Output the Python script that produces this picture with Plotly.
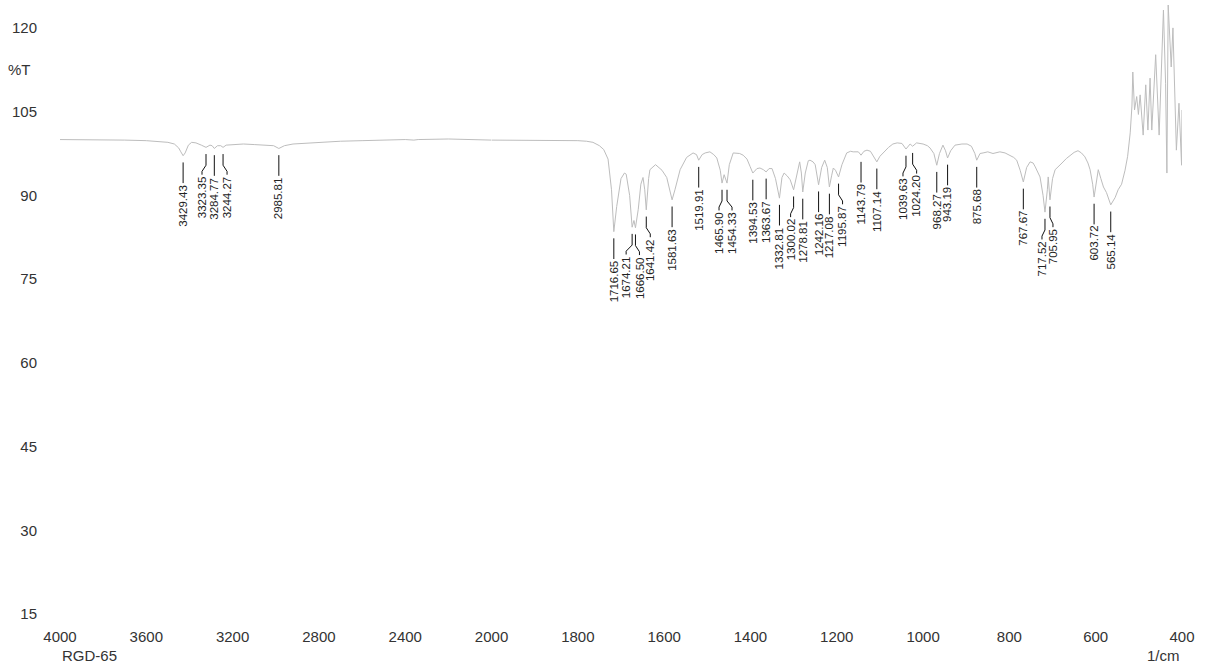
import numpy as np
import plotly.graph_objects as go

# ---------------- data ----------------
wavenumber = [
    4000, 3900, 3800, 3700, 3600, 3550, 3500, 3470, 3450, 3440, 3429.43, 3420, 3405, 3390,
    3370, 3345, 3323.35, 3305, 3295, 3284.77, 3270, 3255, 3244.27, 3230, 3200, 3150, 3100,
    3050, 3010, 2985.81, 2960, 2920, 2850, 2800, 2700, 2600, 2500, 2400, 2360, 2340, 2200,
    2100, 2000,
    1900, 1800, 1780, 1765, 1750, 1740, 1730, 1722, 1716.65, 1710, 1700, 1692, 1688, 1680,
    1674.21, 1670, 1666.50, 1660, 1654, 1649, 1645, 1641.42, 1636, 1633, 1620, 1605, 1594,
    1586, 1581.63, 1575, 1563, 1548, 1533, 1525, 1519.91, 1512, 1505, 1494, 1485, 1478, 1470,
    1465.90, 1461, 1454.33, 1449, 1440, 1425, 1417, 1408, 1401, 1394.53, 1385, 1378, 1370,
    1363.67, 1357, 1350, 1342, 1332.81, 1327, 1322, 1315, 1308, 1300.02, 1293, 1286, 1282,
    1278.81, 1273, 1266, 1262, 1255, 1250, 1242.16, 1235, 1228, 1222, 1217.08, 1212, 1208,
    1203, 1195.87, 1188, 1177, 1168, 1162, 1150, 1143.79, 1137, 1130, 1122, 1115, 1107.14,
    1100, 1093, 1080, 1070, 1060, 1049, 1039.63, 1030, 1024.20, 1015, 1000, 990, 984, 975,
    968.27, 962, 954, 948, 943.19, 936, 926, 910, 898, 888, 880, 875.68, 868, 861, 850, 838,
    830, 822, 810, 799, 790, 783, 775, 767.67, 760, 752, 745, 740, 735, 729, 722, 717.52,
    712, 710, 705.95, 700, 694, 686, 678, 668, 659, 650, 641, 633, 625, 618, 613, 607,
    603.72, 598, 594, 588, 582, 575, 565.14, 555, 548, 540, 532, 526, 520, 516, 514, 510,
    505, 501, 497, 490, 484, 479, 474, 470, 466, 461, 453, 448, 443, 438, 435, 432, 428,
    425, 421, 417, 413, 407, 403, 401, 400,
]
transmittance = [
    100.0, 100.0, 99.9, 99.9, 99.8, 99.7, 99.5, 99.2, 98.5, 97.8, 97.1, 97.6, 99.0, 99.5,
    99.4, 99.0, 98.6, 99.0, 98.9, 98.4, 98.9, 98.9, 98.6, 99.0, 99.1, 99.2, 99.1,
    99.0, 98.9, 98.4, 98.9, 99.2, 99.4, 99.5, 99.7, 99.8, 99.9, 100.0, 99.9, 100.0, 100.1,
    100.0, 99.9,
    99.9, 99.8, 99.7, 99.5, 98.9, 98.2, 96.5, 91.0, 83.5, 88.0, 93.0, 94.0, 93.8, 90.0,
    84.3, 85.5, 84.2, 87.5, 92.0, 93.2, 91.0, 87.4, 93.0, 94.6, 95.5, 94.5, 93.2,
    90.5, 89.2, 91.0, 94.6, 96.8, 97.6, 97.3, 96.3, 97.3, 97.6, 97.8, 97.3, 96.7, 94.5,
    92.2, 93.7, 92.2, 95.5, 97.6, 97.5, 97.2, 96.5, 95.2, 94.0, 94.8, 94.9, 94.6,
    94.2, 94.8, 94.8, 93.0, 89.5, 93.2, 94.0, 93.5, 92.8, 91.0, 93.5, 96.0, 94.0,
    90.6, 94.0, 96.2, 96.3, 96.0, 95.5, 91.9, 95.0, 96.3, 95.0, 91.5, 93.5, 94.9,
    94.5, 93.3, 95.5, 97.6, 97.9, 97.8, 97.8, 97.2, 97.9, 98.1, 97.9, 97.0, 96.0,
    97.0, 97.6, 98.6, 99.2, 99.4, 99.3, 98.3, 99.2, 98.8, 99.4, 99.2, 98.9, 98.5, 97.5,
    95.4, 97.5, 99.0, 98.0, 96.7, 98.0, 99.0, 99.2, 99.2, 98.8, 97.5, 96.3, 97.5, 97.6, 97.8, 97.5,
    97.7, 97.8, 97.6, 97.2, 96.8, 96.3, 94.5, 92.4, 95.0, 96.0, 95.8, 95.1, 94.4, 93.3, 90.0, 87.0,
    91.0, 93.3, 89.2, 93.0, 94.6, 95.3, 95.8, 96.6, 97.2, 97.7, 98.0, 97.6, 96.9, 95.8, 94.6, 92.0,
    89.7, 92.5, 94.6, 93.0, 91.5, 90.5, 88.3, 89.6, 91.0, 92.0, 94.5, 97.0, 101.2, 106.0, 112.1, 105.3,
    107.7, 104.5, 108.0, 100.8, 109.8, 101.7, 111.0, 101.7, 108.0, 115.2, 100.8, 112.0, 123.2, 110.0, 94.0, 124.1, 116.0,
    113.0, 120.0, 108.0, 98.1, 106.5, 99.0, 95.4, 105.3,
]

peak_labels = [
    3429.43, 3323.35, 3284.77, 3244.27, 2985.81,
    1716.65, 1674.21, 1666.50, 1641.42, 1581.63, 1519.91, 1465.90, 1454.33,
    1394.53, 1363.67, 1332.81, 1300.02, 1278.81, 1242.16, 1217.08, 1195.87,
    1143.79, 1107.14, 1039.63, 1024.20, 968.27, 943.19, 875.68, 767.67,
    717.52, 705.95, 603.72, 565.14,
]

x_ticks_high = [4000, 3600, 3200, 2800, 2400, 2000]
x_ticks_low = [1800, 1600, 1400, 1200, 1000, 800, 600, 400]
y_ticks = [15, 30, 45, 60, 75, 90, 105, 120]

# ---------------- layout helpers (pixel nudges for crowded labels) ----------------
label_shift_px = {
    3323.35: -4, 3244.27: 4, 1674.21: -6, 1666.50: 4, 1641.42: 4,
    1465.90: -3, 1454.33: 5, 1300.02: -3, 1195.87: 4, 1039.63: -3,
    1024.20: 4, 717.52: -3, 705.95: 3,
}
PX_PER_UNIT_HIGH = 86.3 / 400.0
PX_PER_UNIT_LOW = 86.3 / 200.0

wn = np.array(wavenumber, dtype=float)
tr = np.array(transmittance, dtype=float)

gray = "#bdbdbd"
font_fam = "Liberation Sans, Arial, sans-serif"

fig = go.Figure()
hi = wn >= 2000
lo = wn <= 2000
fig.add_trace(go.Scatter(x=wn[hi], y=tr[hi], mode="lines", line=dict(color=gray, width=1),
                         xaxis="x", yaxis="y", showlegend=False, hoverinfo="skip"))
fig.add_trace(go.Scatter(x=wn[lo], y=tr[lo], mode="lines", line=dict(color=gray, width=1),
                         xaxis="x2", yaxis="y", showlegend=False, hoverinfo="skip"))

# peak markers
order = np.argsort(wn)
lines_hi_x, lines_hi_y, lines_lo_x, lines_lo_y = [], [], [], []
annotations = []
for p in peak_labels:
    t = float(np.interp(p, wn[order], tr[order]))
    high = p > 2000
    scale = PX_PER_UNIT_HIGH if high else PX_PER_UNIT_LOW
    shift = label_shift_px.get(p, 0)
    lx = p - shift / scale
    if shift:
        xs = [p, p, lx, lx, None]
        ys = [t - 1.2, t - 3.2, t - 4.3, t - 4.9, None]
    else:
        xs = [p, p, None]
        ys = [t - 1.2, t - 4.9, None]
    if high:
        lines_hi_x += xs; lines_hi_y += ys
    else:
        lines_lo_x += xs; lines_lo_y += ys
    annotations.append(dict(
        x=lx, y=t - 5.0, xref="x" if high else "x2", yref="y",
        text=f"{p:.2f}", showarrow=False, textangle=-90,
        xanchor="center", yanchor="top", borderpad=0,
        font=dict(family=font_fam, size=11.5, color="#222222"),
    ))

fig.add_trace(go.Scatter(x=lines_hi_x, y=lines_hi_y, mode="lines", line=dict(color="#111111", width=1),
                         xaxis="x", yaxis="y", showlegend=False, hoverinfo="skip"))
fig.add_trace(go.Scatter(x=lines_lo_x, y=lines_lo_y, mode="lines", line=dict(color="#111111", width=1),
                         xaxis="x2", yaxis="y", showlegend=False, hoverinfo="skip"))

tick_font = dict(family=font_fam, size=15, color="#333333")
split = 5.0 / 13.0
axis_common = dict(showgrid=False, zeroline=False, showline=False, ticks="",
                   tickfont=tick_font, ticklabelstandoff=12)

annotations += [
    dict(text="%T", x=-0.024, y=112.5, xref="paper", yref="y", showarrow=False,
         xanchor="right", yanchor="middle", font=tick_font),
    dict(text="RGD-65", x=0.0, y=-0.067, xref="paper", yref="paper", showarrow=False,
         xanchor="left", yanchor="middle", font=tick_font),
    dict(text="1/cm", x=1.0, y=-0.067, xref="paper", yref="paper", showarrow=False,
         xanchor="right", yanchor="middle", font=tick_font),
]

fig.update_layout(
    width=1211, height=665,
    margin=dict(l=60, r=29, t=0, b=51),
    paper_bgcolor="white", plot_bgcolor="white",
    hovermode=False,
    xaxis=dict(domain=[0, split], range=[4000, 2000], tickvals=x_ticks_high,
               ticktext=[str(v) for v in x_ticks_high], anchor="y", **axis_common),
    xaxis2=dict(domain=[split, 1], range=[2000, 400], tickvals=x_ticks_low,
                ticktext=[str(v) for v in x_ticks_low], anchor="y", **axis_common),
    yaxis=dict(range=[15, 125], tickvals=y_ticks, showgrid=False, zeroline=False,
               showline=False, ticks="", tickfont=tick_font, ticklabelstandoff=22),
    annotations=annotations,
)

fig.write_html("out.html", config={"displayModeBar": False, "staticPlot": True},
               post_script="document.body.style.margin='0';document.body.style.overflow='hidden';")
